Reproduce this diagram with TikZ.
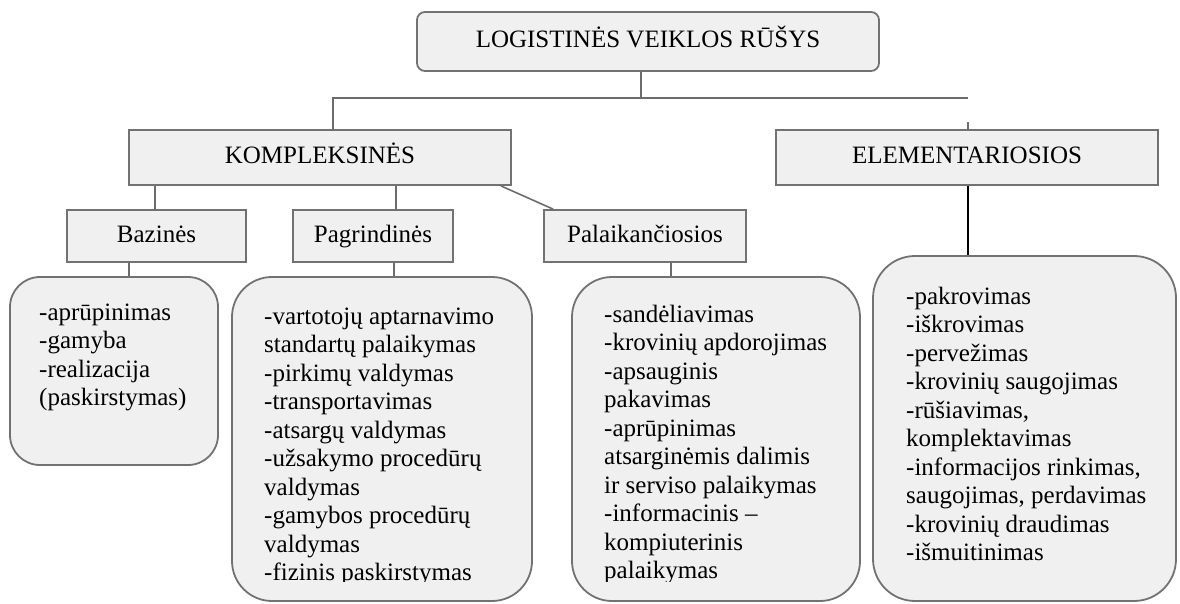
\documentclass[tikz,border=0pt]{standalone}
\usepackage{fontspec}
\setmainfont{Liberation Serif}
\definecolor{boxline}{HTML}{727272}
\definecolor{boxfill}{HTML}{F0F0F0}
\definecolor{connline}{HTML}{6C6C6C}
\tikzset{
  txt/.style={font=\fontsize{25}{28.5}\selectfont},
  headbox/.style={draw=boxline, fill=boxfill, line width=1.8pt, inner sep=0pt,
    text height=17pt, text depth=5pt, txt},
  listbox/.style={draw=boxline, fill=boxfill, line width=1.8pt, inner sep=0pt},
  listtext/.style={anchor=north west, inner sep=0pt, align=left, txt},
  conn/.style={draw=connline, line width=1.6pt},
}
\begin{document}
\begin{tikzpicture}[x=1pt, y=-1pt]
\useasboundingbox (0,0) rectangle (1180,603);

% heading boxes
\node[headbox, rounded corners=8pt, minimum width=462pt, minimum height=59pt] (top) at (648,41.5) {LOGISTINĖS VEIKLOS RŪŠYS};
\node[headbox, minimum width=382pt, minimum height=55pt] (komp) at (320,157.5) {KOMPLEKSINĖS};
\node[headbox, minimum width=382pt, minimum height=55pt] (elem) at (967,157.5) {ELEMENTARIOSIOS};
\node[headbox, minimum width=179pt, minimum height=52pt] (baz) at (156.5,236) {Bazinės};
\node[headbox, minimum width=160pt, minimum height=52pt] (pag) at (373,236) {Pagrindinės};
\node[headbox, minimum width=202pt, minimum height=52pt] (pal) at (645,236) {Palaikančiosios};

% rounded list boxes
\node[listbox, rounded corners=30pt, minimum width=208pt, minimum height=188pt] (box1) at (114,371) {};
\node[listbox, rounded corners=40pt, minimum width=300pt, minimum height=324pt] (box2) at (382,439) {};
\node[listbox, rounded corners=40pt, minimum width=288pt, minimum height=324pt] (box3) at (716,439) {};
\node[listbox, rounded corners=42pt, minimum width=303pt, minimum height=345pt] (box4) at (1024.5,428.5) {};

% list texts (first baseline sits 19.95pt below the node top)
\node[listtext] (t1) at (39,300) {\strut-aprūpinimas\\-gamyba\\-realizacija\\(paskirstymas)};
\begin{scope}
\clip (0,0) rectangle (1180,581.5);
\node[listtext] (t2) at (264,304) {\strut-vartotojų aptarnavimo\\standartų palaikymas\\-pirkimų valdymas\\-transportavimas\\-atsargų valdymas\\-užsakymo procedūrų\\valdymas\\-gamybos procedūrų\\valdymas\\-fizinis paskirstymas};
\node[listtext] (t3) at (604,302) {\strut-sandėliavimas\\-krovinių apdorojimas\\-apsauginis\\pakavimas\\-aprūpinimas\\atsarginėmis dalimis\\ir serviso palaikymas\\-informacinis --\\kompiuterinis\\palaikymas};
\end{scope}
\node[listtext] (t4) at (906,284) {\strut-pakrovimas\\-iškrovimas\\-pervežimas\\-krovinių saugojimas\\-rūšiavimas,\\komplektavimas\\-informacijos rinkimas,\\saugojimas, perdavimas\\-krovinių draudimas\\-išmuitinimas};

% connectors
\coordinate (busL) at (333,98);
\coordinate (busR) at (968,98);
\draw[conn] ([xshift=-7pt]top.south) -- ([xshift=-7pt]top.south |- busL);
\draw[conn] (komp.north -| busL) -- (busL) -- (busR);
\draw[conn] (elem.north -| busR) -- ++(0,-7);
\draw[conn] ([xshift=-1.5pt]baz.north) -- ([xshift=-1.5pt]baz.north |- komp.south);
\draw[conn] ([xshift=23pt]pag.north) -- ([xshift=23pt]pag.north |- komp.south);
\draw[conn] ([xshift=-11pt]komp.south east) -- ([xshift=10pt]pal.north west);
\draw[conn] ([xshift=-27.5pt]baz.south) -- ([xshift=-27.5pt]baz.south |- box1.north);
\draw[conn] ([xshift=21pt]pag.south) -- ([xshift=21pt]pag.south |- box2.north);
\draw[conn] ([xshift=26pt]pal.south) -- ([xshift=26pt]pal.south |- box3.north);
\draw[line width=1.2pt, black] (elem.south -| busR) -- (box4.north -| busR);
\end{tikzpicture}
\end{document}
